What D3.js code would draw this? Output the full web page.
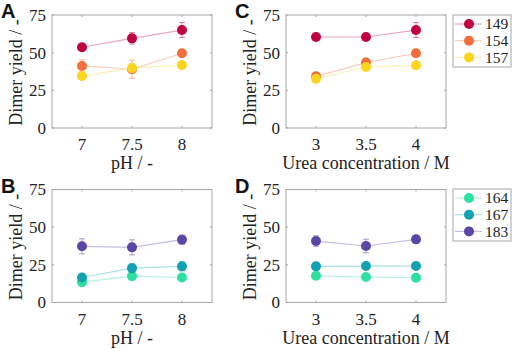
<!DOCTYPE html>
<html>
<head>
<meta charset="utf-8">
<script src="https://cdn.jsdelivr.net/npm/d3@7"></script>
<style>
  body { margin: 0; background: #fff; }
  svg text { font-family: "Liberation Serif", "Times New Roman", Times, serif; fill: #222; }
</style>
</head>
<body>
<svg id="chart" width="512" height="349"></svg>
<script>
// x values
const phValues = [7, 7.5, 8];
const ureaValues = [3, 3.5, 4];
const yTicks = [0, 25, 50, 75];

// series names
const topNames = ['149', '154', '157'];
const bottomNames = ['164', '167', '183'];
const colors = {
  '149': '#c1003f', '154': '#f46d3c', '157': '#fdd521',
  '164': '#2de0a0', '167': '#10a2b2', '183': '#5b46a8'
};

// panel A: dimer yield vs pH (mean, error)
const phMean149 = [53.6, 59.5, 65.0];
const phErr149 = [1.5, 3.8, 5.0];
const phMean154 = [41.2, 39.0, 49.6];
const phErr154 = [4.0, 6.0, 1.0];
const phMean157 = [34.5, 39.8, 41.8];
const phErr157 = [2.5, 3.0, 1.0];

// panel C: dimer yield vs urea
const ureaMean149 = [60.4, 60.4, 65.0];
const ureaErr149 = [0.8, 0.8, 5.0];
const ureaMean154 = [34.3, 43.4, 49.6];
const ureaErr154 = [1.0, 3.0, 1.5];
const ureaMean157 = [32.7, 40.5, 41.6];
const ureaErr157 = [1.0, 1.0, 1.0];

// panel B: dimer yield vs pH
const phMean164 = [13.5, 17.5, 16.6];
const phErr164 = [1.0, 1.5, 2.0];
const phMean167 = [16.6, 22.8, 24.0];
const phErr167 = [1.5, 3.0, 3.0];
const phMean183 = [37.3, 36.6, 41.7];
const phErr183 = [5.0, 5.0, 3.0];

// panel D: dimer yield vs urea
const ureaMean164 = [17.7, 16.9, 16.5];
const ureaErr164 = [1.0, 1.0, 1.0];
const ureaMean167 = [24.0, 24.2, 24.2];
const ureaErr167 = [1.0, 1.5, 2.0];
const ureaMean183 = [40.8, 37.5, 41.9];
const ureaErr183 = [3.5, 4.5, 2.5];

const svg = d3.select('#chart');

const panels = [
  { label: 'A', x0: 52, y0: 15, xs: phValues, xDomain: [6.7, 8.3], xTitle: 'pH / -',
    series: [['149', phMean149, phErr149], ['154', phMean154, phErr154], ['157', phMean157, phErr157]] },
  { label: 'C', x0: 286, y0: 15, xs: ureaValues, xDomain: [2.7, 4.3], xTitle: 'Urea concentration / M',
    series: [['149', ureaMean149, ureaErr149], ['154', ureaMean154, ureaErr154], ['157', ureaMean157, ureaErr157]] },
  { label: 'B', x0: 52, y0: 189.5, xs: phValues, xDomain: [6.7, 8.3], xTitle: 'pH / -',
    series: [['164', phMean164, phErr164], ['167', phMean167, phErr167], ['183', phMean183, phErr183]] },
  { label: 'D', x0: 286, y0: 189.5, xs: ureaValues, xDomain: [2.7, 4.3], xTitle: 'Urea concentration / M',
    series: [['164', ureaMean164, ureaErr164], ['167', ureaMean167, ureaErr167], ['183', ureaMean183, ureaErr183]] }
];

const pw = 160, ph = 113;
const boxColor = '#a6a6a6';

panels.forEach(p => {
  const g = svg.append('g').attr('transform', `translate(${p.x0},${p.y0})`);
  const x = d3.scaleLinear().domain(p.xDomain).range([0, pw]);
  const y = d3.scaleLinear().domain([0, 75]).range([ph, 0]);

  // box
  g.append('rect').attr('width', pw).attr('height', ph)
    .attr('fill', 'none').attr('stroke', boxColor).attr('stroke-width', 1);

  // inward ticks on all four sides
  p.xs.forEach(v => {
    g.append('line').attr('x1', x(v)).attr('x2', x(v)).attr('y1', ph).attr('y2', ph - 2).attr('stroke', boxColor);
    g.append('line').attr('x1', x(v)).attr('x2', x(v)).attr('y1', 0).attr('y2', 2).attr('stroke', boxColor);
  });
  yTicks.forEach(v => {
    g.append('line').attr('x1', 0).attr('x2', 2).attr('y1', y(v)).attr('y2', y(v)).attr('stroke', boxColor);
    g.append('line').attr('x1', pw).attr('x2', pw - 2).attr('y1', y(v)).attr('y2', y(v)).attr('stroke', boxColor);
  });

  // tick labels
  g.selectAll('.ytl').data(yTicks).enter().append('text')
    .attr('x', -6).attr('y', d => y(d)).attr('dy', '0.35em')
    .attr('text-anchor', 'end').style('font-size', '17px').text(d => d);
  g.selectAll('.xtl').data(p.xs).enter().append('text')
    .attr('x', d => x(d)).attr('y', ph + 22)
    .attr('text-anchor', 'middle').style('font-size', '17px').text(d => d);

  // axis titles
  g.append('text').attr('x', pw / 2).attr('y', ph + 41)
    .attr('text-anchor', 'middle').style('font-size', '18px').text(p.xTitle);
  g.append('text').attr('transform', `translate(-30,${ph / 2 + 1}) rotate(-90)`)
    .attr('text-anchor', 'middle').style('font-size', '18px').text('Dimer yield / -');

  // panel label
  svg.append('text').attr('x', p.x0 - 51).attr('y', p.y0 + 3)
    .style('font-family', '"Liberation Sans", Arial, sans-serif').style('font-weight', 'bold')
    .style('font-size', '20px').style('fill', '#111').text(p.label);

  const line = d3.line().x(d => x(d[0])).y(d => y(d[1]));

  p.series.forEach(([name, mean, err]) => {
    const c = colors[name];
    const pts = p.xs.map((v, i) => [v, mean[i], err[i]]);
    g.append('path').datum(pts).attr('d', line)
      .attr('fill', 'none').attr('stroke', c).attr('stroke-opacity', 0.35).attr('stroke-width', 1.2);
    pts.forEach(d => {
      const cx = x(d[0]);
      const eg = g.append('g').attr('stroke', c).attr('stroke-opacity', 0.5).attr('stroke-width', 1);
      eg.append('line').attr('x1', cx).attr('x2', cx).attr('y1', y(d[1] - d[2])).attr('y2', y(d[1] + d[2]));
      eg.append('line').attr('x1', cx - 3).attr('x2', cx + 3).attr('y1', y(d[1] - d[2])).attr('y2', y(d[1] - d[2]));
      eg.append('line').attr('x1', cx - 3).attr('x2', cx + 3).attr('y1', y(d[1] + d[2])).attr('y2', y(d[1] + d[2]));
    });
    g.selectAll(null).data(pts).enter().append('circle')
      .attr('cx', d => x(d[0])).attr('cy', d => y(d[1])).attr('r', 5).attr('fill', c);
  });
});

// legends
function legend(names, top) {
  const lg = svg.append('g').attr('transform', `translate(453,${top})`);
  lg.append('rect').attr('width', 58).attr('height', 52)
    .attr('fill', '#fff').attr('stroke', boxColor);
  names.forEach((n, i) => {
    const yy = 9 + i * 16.7;
    lg.append('line').attr('x1', 2).attr('x2', 29).attr('y1', yy).attr('y2', yy)
      .attr('stroke', colors[n]).attr('stroke-opacity', 0.35).attr('stroke-width', 1.2);
    lg.append('circle').attr('cx', 16).attr('cy', yy).attr('r', 5).attr('fill', colors[n]);
    lg.append('text').attr('x', 32).attr('y', yy).attr('dy', '0.35em')
      .style('font-size', '15.5px').text(n);
  });
}
legend(topNames, 15);
legend(bottomNames, 189);
</script>
</body>
</html>
